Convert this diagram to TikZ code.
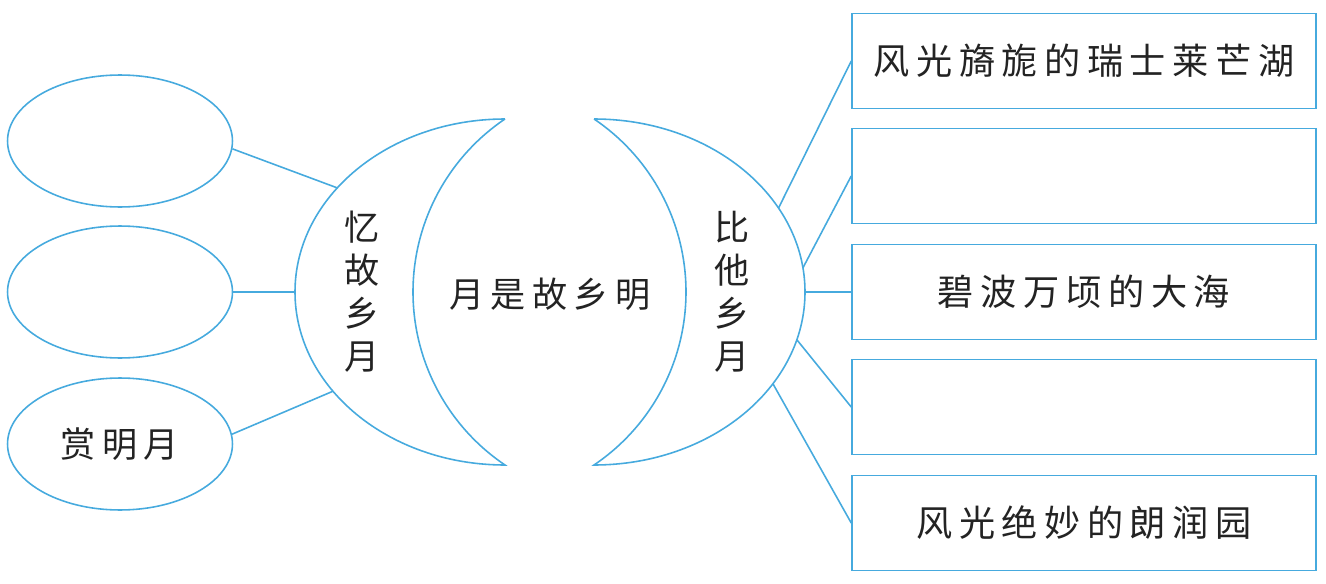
\documentclass[tikz,border=0pt]{standalone}
\usepackage{fontspec}
\newfontfamily\cjk[LetterSpace=18]{Noto Sans CJK SC}
\usetikzlibrary{shapes.geometric}
\definecolor{moonblue}{RGB}{70,170,222}
\definecolor{inkgray}{RGB}{35,35,35}
\tikzset{
  link/.style={draw=moonblue,line width=0.9pt},
  word/.style={text=inkgray,font={\cjk\fontsize{20}{24.5}\selectfont},align=center},
  bigword/.style={text=inkgray,font={\cjk\fontsize{20.6}{24.5}\selectfont},align=center},
  bubble/.style={link,ellipse,minimum width=4.5cm,minimum height=2.64cm,inner sep=0pt},
  scenebox/.style={link,rectangle,minimum width=9.28cm,minimum height=1.9cm,inner sep=0pt}
}
\begin{document}
\begin{tikzpicture}[x=0.02cm,y=0.02cm]
\useasboundingbox (0,0) rectangle (1326,583);
\fill[white] (0,0) rectangle (1326,583);
\coordinate (L1) at (337.3,395.1);
\coordinate (L2) at (295,291);
\coordinate (L3) at (333,191.8);
\coordinate (R1) at (778.5,374.9);
\coordinate (R2) at (802.9,315.1);
\coordinate (R3) at (805,291);
\coordinate (R4) at (796.8,243.3);
\coordinate (R5) at (772.9,199.3);
\draw[link] (505,464) arc[start angle=90,end angle=270,x radius=210,y radius=173]
  arc[start angle=236,end angle=124,radius=208.7];
\draw[link] (594,464) arc[start angle=90,end angle=-90,x radius=211,y radius=173]
  arc[start angle=-56,end angle=56,radius=208.7];
\node[bubble] (E1) at (120,442) {};
\node[bubble] (E2) at (120,291) {};
\node[bubble,word] (E3) at (120,139) {赏明月};
\node[scenebox,bigword] (B1) at (1084,522) {风光旖旎的瑞士莱芒湖};
\node[scenebox] (B2) at (1084,407) {};
\node[scenebox,bigword] (B3) at (1084,291) {碧波万顷的大海};
\node[scenebox] (B4) at (1084,176) {};
\node[scenebox,bigword] (B5) at (1084,60) {风光绝妙的朗润园};
\node[word] (yi) at (362,291) {忆\\故\\乡\\月};
\node[word] (bi) at (732,291) {比\\他\\乡\\月};
\node[word] (ming) at (550,289) {月是故乡明};
\draw[link] (E1.-4) -- (L1);
\draw[link] (E2) -- (L2);
\draw[link] (E3.5) -- (L3);
\foreach \i in {1,...,5}{
\draw[link] (R\i) -- (B\i.west);
}
\end{tikzpicture}
\end{document}
